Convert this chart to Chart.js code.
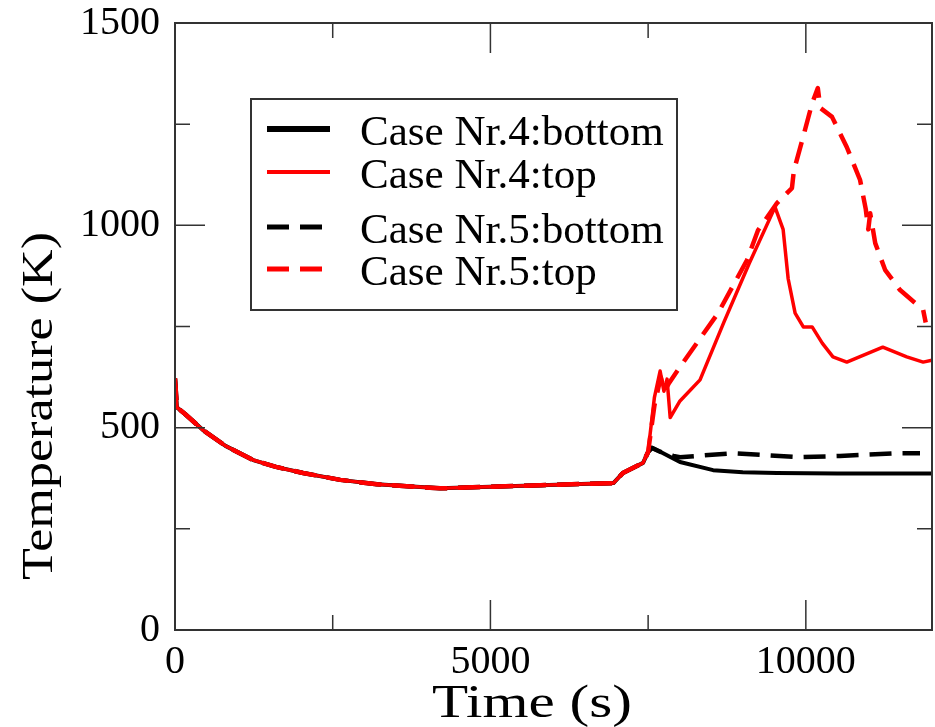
<!DOCTYPE html>
<html>
<head>
<meta charset="utf-8">
<script src="https://cdn.jsdelivr.net/npm/chart.js@4.4.0/dist/chart.umd.min.js"></script>
<style>
  html, body { margin: 0; padding: 0; background: #fff; }
</style>
</head>
<body>
<canvas id="chartTemp" width="935" height="727"></canvas>
<script>
// shared start: all four cases lie on top of each other until ~7400 s
const startTime = [0, 30, 150, 444, 800, 1240, 1600, 2030, 2620, 3200, 4200, 5000, 5800, 6950, 7100, 7420];
const startTemp = [622, 550, 535, 494, 455, 420, 403, 388, 371, 360, 350, 354, 358, 363, 388, 413];

const case4BottomTime = [7500, 7560, 7700, 8005, 8530, 9000, 9543, 10500, 12000];
const case4BottomTemp = [440, 450, 440, 415, 395, 390, 388, 387, 387];

const case4TopTime = [7500, 7600, 7690, 7750, 7800, 7850, 8005, 8323, 8700, 9100, 9512, 9640, 9720, 9830, 9960, 10100, 10260, 10430, 10650, 11220, 11600, 11860, 12000];
const case4TopTemp = [442, 575, 640, 590, 620, 525, 566, 618, 760, 905, 1045, 990, 868, 783, 749, 749, 709, 675, 662, 699, 675, 662, 667];

const case5BottomTime = [7500, 7560, 7700, 7900, 8005, 8846, 9385, 9908, 10542, 11493, 11810];
const case5BottomTemp = [440, 450, 440, 430, 427, 437, 432, 427, 430, 437, 437];

const case5TopTime = [7500, 7600, 7700, 7760, 7830, 8005, 8608, 9068, 9242, 9543, 9780, 9810, 9956, 10100, 10190, 10230, 10415, 10650, 10860, 10950, 10990, 11020, 11100, 11256, 11494, 11860, 11900];
const case5TopTemp = [440, 555, 625, 590, 610, 650, 783, 914, 988, 1055, 1092, 1135, 1218, 1302, 1339, 1290, 1268, 1193, 1112, 1040, 990, 1030, 956, 890, 840, 791, 760];

const legendLabels = ['Case Nr.4:bottom', 'Case Nr.4:top', 'Case Nr.5:bottom', 'Case Nr.5:top'];
const xTitle = 'Time (s)';
const yTitle = 'Temperature (K)';

const xMajorTicks = [0, 5000, 10000];
const xMinorTicks = [2500, 7500];
const yMajorTicks = [0, 500, 1000, 1500];
const yMinorTicks = [250, 750, 1250];

const serif = '"Liberation Serif", "Times New Roman", serif';

function toPoints(t1, y1, t2, y2) {
    const ys = y1.concat(y2);
    return t1.concat(t2).map((t, i) => ({ x: t, y: ys[i] }));
}

// text stretched to a target width (the original titles are set wide)
function stretchedText(ctx, text, cx, cy, width, rot) {
    ctx.save();
    ctx.translate(cx, cy);
    ctx.rotate(rot);
    const w = ctx.measureText(text).width;
    ctx.scale(width / w, 1);
    ctx.textAlign = 'center';
    ctx.textBaseline = 'alphabetic';
    ctx.fillText(text, 0, 0);
    ctx.restore();
}

const frameAndLegend = {
    id: 'frameAndLegend',
    afterDraw(chart) {
        const { ctx, chartArea: a, scales: { x, y } } = chart;
        ctx.save();
        ctx.strokeStyle = '#333';
        ctx.lineWidth = 2;
        ctx.strokeRect(a.left, a.top, a.right - a.left, a.bottom - a.top);

        // inward ticks on all four sides
        ctx.lineWidth = 1.5;
        const tickX = (vals, len) => vals.forEach(v => {
            const px = x.getPixelForValue(v);
            ctx.beginPath();
            ctx.moveTo(px, a.bottom); ctx.lineTo(px, a.bottom - len);
            ctx.moveTo(px, a.top); ctx.lineTo(px, a.top + len);
            ctx.stroke();
        });
        const tickY = (vals, len) => vals.forEach(v => {
            const py = y.getPixelForValue(v);
            ctx.beginPath();
            ctx.moveTo(a.left, py); ctx.lineTo(a.left + len, py);
            ctx.moveTo(a.right, py); ctx.lineTo(a.right - len, py);
            ctx.stroke();
        });
        tickX(xMajorTicks, 30);
        tickX(xMinorTicks, 15);
        tickY(yMajorTicks, 30);
        tickY(yMinorTicks, 15);

        // axis titles
        ctx.fillStyle = '#000';
        ctx.font = '47px ' + serif;
        stretchedText(ctx, xTitle, 532, 717, 200, 0);
        ctx.font = '45px ' + serif;
        stretchedText(ctx, yTitle, 52, 406, 348, -Math.PI / 2);

        // legend box
        ctx.fillStyle = '#fff';
        ctx.fillRect(251, 99, 426, 211);
        ctx.lineWidth = 2;
        ctx.strokeStyle = '#333';
        ctx.strokeRect(251, 99, 426, 211);

        const baselines = [145, 188, 243, 285];
        const ds = chart.data.datasets;
        ctx.font = '42px ' + serif;
        ctx.textBaseline = 'alphabetic';
        legendLabels.forEach((label, i) => {
            const d = ds[i];
            const ly = baselines[i] - 16;
            ctx.beginPath();
            ctx.strokeStyle = d.borderColor;
            ctx.lineWidth = d.legendWidth;
            ctx.setLineDash(d.borderDash || []);
            ctx.moveTo(267, ly);
            ctx.lineTo(330, ly);
            ctx.stroke();
            ctx.setLineDash([]);
            ctx.fillStyle = '#000';
            ctx.save();
            ctx.translate(360, baselines[i]);
            ctx.scale(1.025, 1);
            ctx.fillText(label, 0, 0);
            ctx.restore();
        });
        ctx.restore();
    }
};

new Chart(document.getElementById('chartTemp').getContext('2d'), {
    type: 'line',
    data: {
        datasets: [
            {
                label: legendLabels[0],
                data: toPoints(startTime, startTemp, case4BottomTime, case4BottomTemp),
                borderColor: '#000',
                borderWidth: 4,
                legendWidth: 6,
                order: 2
            },
            {
                label: legendLabels[1],
                data: toPoints(startTime, startTemp, case4TopTime, case4TopTemp),
                borderColor: '#ff0000',
                borderWidth: 3.5,
                legendWidth: 4,
                order: 0
            },
            {
                label: legendLabels[2],
                data: toPoints(startTime, startTemp, case5BottomTime, case5BottomTemp),
                borderColor: '#000',
                borderWidth: 4.5,
                borderDash: [22, 11],
                legendWidth: 5,
                order: 3
            },
            {
                label: legendLabels[3],
                data: toPoints(startTime, startTemp, case5TopTime, case5TopTemp),
                borderColor: '#ff0000',
                borderWidth: 4.5,
                borderDash: [22, 11],
                legendWidth: 5,
                order: 1
            }
        ]
    },
    options: {
        responsive: false,
        animation: false,
        elements: {
            point: { radius: 0 },
            line: { tension: 0, fill: false, borderCapStyle: 'butt', borderJoinStyle: 'round' }
        },
        layout: { padding: { top: 23, right: 3, left: 0, bottom: 0 } },
        plugins: {
            legend: { display: false },
            tooltip: { enabled: false }
        },
        scales: {
            x: {
                type: 'linear',
                min: 0,
                max: 12000,
                afterFit: s => { s.height = 97; s.paddingLeft = 0; s.paddingRight = 0; },
                afterBuildTicks: s => { s.ticks = xMajorTicks.map(v => ({ value: v })); },
                ticks: {
                    font: { family: serif, size: 40 },
                    color: '#000',
                    padding: 8,
                    maxRotation: 0,
                    callback: v => String(v)
                },
                grid: { display: false, drawTicks: false },
                border: { display: false }
            },
            y: {
                type: 'linear',
                min: 0,
                max: 1500,
                afterFit: s => { s.width = 175; s.paddingTop = 0; s.paddingBottom = 0; },
                afterBuildTicks: s => { s.ticks = yMajorTicks.map(v => ({ value: v })); },
                ticks: {
                    font: { family: serif, size: 40 },
                    color: '#000',
                    padding: 15,
                    callback: v => String(v)
                },
                grid: { display: false, drawTicks: false },
                border: { display: false }
            }
        }
    },
    plugins: [frameAndLegend]
});
</script>
</body>
</html>
